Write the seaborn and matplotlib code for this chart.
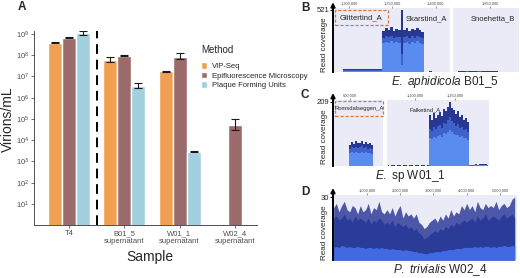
import numpy as np
import pandas as pd
import matplotlib
matplotlib.use('Agg')
import matplotlib.pyplot as plt
from matplotlib.patches import Rectangle
import seaborn as sns

# ---- panel A data ----
samples = ["T4", "B01_5\nsupernatant", "W01_1\nsupernatant", "W02_4\nsupernatant"]
methods = ["VIP-Seq", "Epifluorescence Microscopy", "Plaque Forming Units"]
bar_colors = ["#F0A050", "#9B6A6A", "#A2D0DE"]

vip = [3.8e8, 6.0e7, 1.8e7, np.nan]
vip_lo = [3.6e8, 4.8e7, 1.7e7, np.nan]
vip_hi = [4.0e8, 8.3e7, 1.9e7, np.nan]

epi = [6.7e8, 9.5e7, 8.5e7, 5.2e4]
epi_lo = [6.5e8, 9.0e7, 6.4e7, 3.0e4]
epi_hi = [6.9e8, 1.0e8, 1.23e8, 9.7e4]

pfu = [1.07e9, 3.7e6, 2.9e3, np.nan]
pfu_lo = [8.9e8, 2.9e6, 2.7e3, np.nan]
pfu_hi = [1.35e9, 4.9e6, 3.1e3, np.nan]

# ---- panel B coverage (E. aphidicola B01_5) ----
b1_start, b1_step = 1283000, 3000
b1_max = [0, 0, 0, 0,
          22, 26, 24, 25, 23, 27, 24, 26, 25, 28, 24, 26, 23, 27, 25,
          340, 365, 350, 372, 345, 360, 355, 521, 350, 368, 342, 362, 348, 370, 352, 338,
          4, 3, 5, 3, 2, 4, 3, 2, 3, 4]
b1_mid = [0, 0, 0, 0,
          15, 17, 16, 16, 15, 18, 16, 17, 16, 18, 16, 17, 15, 17, 16,
          285, 300, 290, 305, 288, 296, 292, 150, 290, 302, 284, 298, 288, 304, 292, 282,
          2, 2, 3, 2, 1, 2, 2, 1, 2, 2]
b1_min = [0, 0, 0, 0,
          8, 9, 8, 9, 8, 10, 9, 9, 8, 10, 9, 9, 8, 9, 9,
          240, 252, 245, 255, 242, 250, 246, 60, 244, 254, 238, 250, 242, 256, 246, 236,
          1, 1, 1, 1, 1, 1, 1, 1, 1, 1]
b1_ticks = [1300000, 1350000, 1400000]

b2_start, b2_step = 1809000, 3000
b2_max = [2, 3, 5, 7, 6, 8, 7, 6, 7, 8, 8, 6, 5, 5, 7, 6, 5, 4, 3, 3, 2, 3, 2, 3, 2]
b2_mid = [1, 2, 3, 4, 4, 5, 4, 4, 4, 5, 5, 4, 3, 3, 4, 4, 3, 2, 2, 2, 1, 2, 1, 2, 1]
b2_min = [1, 1, 2, 2, 2, 3, 2, 2, 2, 3, 3, 2, 2, 2, 2, 2, 2, 1, 1, 1, 1, 1, 1, 1, 1]
b2_ticks = [1850000]

# ---- panel C coverage (E. sp W01_1) ----
c1_start, c1_step = 580000, 2500
c1_max = [0, 0, 0, 0, 0, 0, 0, 0,
          70, 78, 72, 80, 74, 76, 82, 73, 77, 71, 75, 68,
          0, 0, 0, 0, 0]
c1_mid = [0, 0, 0, 0, 0, 0, 0, 0,
          57, 62, 58, 63, 59, 61, 64, 58, 62, 57, 60, 55,
          0, 0, 0, 0, 0]
c1_min = [0, 0, 0, 0, 0, 0, 0, 0,
          42, 45, 43, 46, 43, 44, 47, 42, 45, 42, 44, 40,
          0, 0, 0, 0, 0]
c1_ticks = [600000]

c2_start, c2_step = 1166000, 2500
c2_max = [2, 1, 2, 2, 1, 2, 2, 1, 2, 2, 1, 2, 2, 1, 2, 2, 1, 2, 2, 1, 2,
          165, 150, 172, 158, 168, 176, 162, 185, 178, 194, 209, 188, 182, 170, 178, 160, 168, 150, 156, 145,
          3, 4, 3, 5, 4, 6, 5, 7, 5, 4]
c2_mid = [1, 1, 1, 1, 1, 1, 1, 1, 1, 1, 1, 1, 1, 1, 1, 1, 1, 1, 1, 1, 1,
          120, 115, 128, 122, 130, 135, 125, 142, 138, 150, 160, 146, 140, 132, 136, 125, 128, 118, 120, 112,
          2, 2, 2, 3, 2, 3, 3, 4, 3, 2]
c2_min = [0.5, 0.5, 0.5, 0.5, 0.5, 0.5, 0.5, 0.5, 0.5, 0.5, 0.5, 0.5, 0.5, 0.5, 0.5, 0.5, 0.5, 0.5, 0.5, 0.5, 0.5,
          90, 88, 95, 92, 98, 102, 96, 108, 104, 112, 118, 110, 106, 100, 102, 95, 98, 90, 92, 86,
          1, 1, 1, 2, 1, 2, 2, 2, 2, 1]
c2_ticks = [1200000, 1250000]

# ---- panel D coverage (P. trivialis W02_4) ----
d_start, d_step = 0, 80000
d_max = [25, 27, 23, 26, 28, 24, 23, 26, 25, 22,
         26, 23, 24, 27, 22, 25, 24, 28, 23, 22,
         24, 22, 25, 21, 24, 26, 20, 23, 21, 22,
         20, 22, 18, 17, 15, 16, 18, 19, 20, 18,
         21, 19, 22, 20, 24, 21, 23, 22, 26, 24,
         27, 24, 26, 23, 28, 25, 24, 27, 25, 26,
         25, 28, 24, 26, 27, 25, 26, 29, 30]
d_mean = [20, 21, 19, 20, 22, 19, 20, 18, 21, 19,
          20, 19, 18, 20, 17, 19, 18, 20, 19, 17,
          18, 17, 19, 16, 18, 17, 16, 17, 15, 16,
          14, 15, 13, 12, 10, 11, 12, 13, 14, 13,
          15, 14, 16, 15, 17, 16, 18, 17, 18, 19,
          18, 19, 20, 18, 21, 19, 20, 22, 19, 20,
          21, 20, 19, 21, 22, 20, 21, 22, 20]
d_min = [6, 6.5, 6, 7, 6.5, 6, 6.5, 6, 6, 6.5,
         6, 6, 5.5, 6, 6, 5.5, 6, 5.5, 6, 5.5,
         5.5, 5, 5.5, 5, 5, 5, 4.5, 5, 4.5, 4.5,
         4, 4, 3.5, 3.5, 3, 3, 3.5, 3.5, 4, 4,
         4, 4.5, 4.5, 5, 5, 5, 5.5, 5.5, 5.5, 6,
         6, 6, 6, 6.5, 6, 6.5, 6, 6.5, 6.5, 6,
         6.5, 6, 6.5, 6.5, 7, 6.5, 6.5, 7, 6.5]
d_ticks = [1000000, 2000000, 3000000, 4000000, 5000000]

sns.set_theme(style='white')
plt.rcParams['font.family'] = ['Liberation Sans', 'DejaVu Sans']
plt.rcParams['mathtext.fontset'] = 'custom'
plt.rcParams['mathtext.rm'] = 'Liberation Sans'
plt.rcParams['mathtext.it'] = 'Liberation Sans:italic'

W, H = 520, 278
fig = plt.figure(figsize=(W / 100, H / 100), dpi=100)


def px_axes(x0, y0, x1, y1):
    return fig.add_axes([x0 / W, 1 - y1 / H, (x1 - x0) / W, (y1 - y0) / H])


# ================= panel A =================
rows = []
for i, s in enumerate(samples):
    for m, v, lo, hi in zip(methods, [vip, epi, pfu], [vip_lo, epi_lo, pfu_lo], [vip_hi, epi_hi, pfu_hi]):
        rows.append({'Sample': s, 'Method': m, 'value': v[i], 'lo': lo[i], 'hi': hi[i]})
df = pd.DataFrame(rows).dropna()

axA = px_axes(34, 31, 257, 225.25)
axA.set_yscale('log')
sns.barplot(data=df, x='Sample', y='value', hue='Method', order=samples, hue_order=methods,
            palette=bar_colors, errorbar=None, width=0.76, saturation=1, ax=axA)
axA.set_ylim(1, 10 ** 9.14)
axA.set_xlim(-0.63, 3.40)

for bar in axA.patches:
    if bar is None or not hasattr(bar, 'get_height'):
        continue
    top = bar.get_y() + bar.get_height()
    match = df[np.isclose(df['value'], top, rtol=1e-3)]
    if len(match) and bar.get_width() < 0.5:
        r = match.iloc[0]
        xc = bar.get_x() + bar.get_width() / 2
        axA.errorbar(xc, r['value'], yerr=[[r['value'] - r['lo']], [r['hi'] - r['value']]],
                     fmt='none', ecolor='#1a1a1a', elinewidth=0.8, capsize=2.6, capthick=0.8)

axA.axvline(0.5, color='black', ls=(0, (5, 3)), lw=1.4)
axA.set_yticks([10 ** k for k in range(1, 10)])
axA.yaxis.set_minor_locator(plt.NullLocator())
axA.tick_params(axis='both', labelsize=5.5, labelcolor='#4D4D4D', length=2, width=0.5,
                color='#333333', pad=1.5, left=True, bottom=True)
for side in ['top', 'right']:
    axA.spines[side].set_visible(False)
for side in ['left', 'bottom']:
    axA.spines[side].set_color('#333333')
    axA.spines[side].set_linewidth(0.6)
axA.set_ylabel('Virions/mL', fontsize=10)
axA.set_xlabel('Sample', fontsize=10)
axA.yaxis.set_label_coords(-0.085, 0.547)
axA.xaxis.set_label_coords(0.52, -0.125)

handles, labels = axA.get_legend_handles_labels()
axA.legend(handles, labels, title='Method', loc='upper left', bbox_to_anchor=(201 / W, 1 - 45 / H),
           bbox_transform=fig.transFigure, frameon=False, fontsize=5.5, title_fontsize=7,
           handlelength=0.85, handleheight=1.0, handletextpad=0.6, labelspacing=0.2,
           borderpad=0, borderaxespad=0, alignment='left')
axA.get_legend().get_title().set_position((0, 0))
axA.get_legend()._legend_box.sep = 5

fig.text(22 / W, 1 - 7 / H, 'A', fontsize=8.5, fontweight='bold', ha='center', va='center')

# ================= coverage panels =================
lav = '#EBEBF8'
navy = '#283791'
midblue = '#3D62C9'
light = '#5A8BEF'


def cov_axes(x0, y0, x1, y1, top):
    ax = px_axes(x0, y0, x1, y1)
    ax.set_facecolor(lav)
    for s in ax.spines.values():
        s.set_visible(False)
    ax.set_ylim(0, top)
    ax.set_yticks([])
    return ax


def draw_cov(ax, start, step, mx, md, mn, cols, stepmode='mid'):
    x = start + step * np.arange(len(mx))
    for vals, c in zip([mx, md, mn], cols):
        ax.fill_between(x, 0, vals, color=c, lw=0, step=stepmode)
    ax.set_xlim(x[0] - step / 2, x[-1] + step / 2)


def top_ticks(ax, ticks):
    ax.xaxis.tick_top()
    ax.set_xticks(ticks)
    ax.set_xticklabels([f'{t:,}' for t in ticks])
    ax.tick_params(axis='x', labelsize=2.8, labelcolor='#444444', length=1.5, width=0.4,
                   color='#444444', pad=0.5, top=True, bottom=False)


def y_arrow(ax, ymax_label, tip):
    ax.spines['left'].set_visible(True)
    ax.spines['left'].set_color('black')
    ax.spines['left'].set_linewidth(1.4)
    ax.set_yticks([ymax_label])
    ax.tick_params(axis='y', labelsize=5.5, labelcolor='#222222', length=2, width=0.8,
                   color='black', pad=0.5, left=True)
    ax.annotate('', xy=(0, tip), xytext=(0, 0.9), xycoords='axes fraction',
                arrowprops=dict(arrowstyle='-|>', color='black', lw=1.4, mutation_scale=6,
                                shrinkA=0, shrinkB=0), annotation_clip=False)


def dashed_box(x0, y0, x1, y1):
    fig.add_artist(Rectangle((x0 / W, 1 - y1 / H), (x1 - x0) / W, (y1 - y0) / H,
                             transform=fig.transFigure, fill=False, ec='#D9773A',
                             ls=(0, (2.5, 1.5)), lw=0.9))


cols3 = [navy, midblue, light]

# B
axB1 = cov_axes(333, 8, 450, 72, 535)
draw_cov(axB1, b1_start, b1_step, b1_max, b1_mid, b1_min, cols3)
top_ticks(axB1, b1_ticks)
y_arrow(axB1, 521, 1.09)
axB2 = cov_axes(453, 8, 519, 72, 535)
draw_cov(axB2, b2_start, b2_step, b2_max, b2_mid, b2_min, cols3)
top_ticks(axB2, b2_ticks)
dashed_box(335, 10, 388, 25)
fig.text(361 / W, 1 - 18 / H, 'Glittertind_A', fontsize=5.5, ha='center', va='center')
fig.text(426 / W, 1 - 19 / H, 'Skarstind_A', fontsize=5.5, ha='center', va='center')
fig.text(493 / W, 1 - 19 / H, 'Snoehetta_B', fontsize=5.5, ha='center', va='center')
fig.text(325 / W, 1 - 45 / H, 'Read coverage', fontsize=5.8, rotation=90, ha='center', va='center')
fig.text(305 / W, 1 - 8 / H, 'B', fontsize=8.5, fontweight='bold', ha='center', va='center')
fig.text(445 / W, 1 - 82 / H, r'$\mathit{E.\ aphidicola}$ B01_5', fontsize=8.5, ha='center', va='center')

# C
axC1 = cov_axes(333, 100, 383, 166, 215.5)
draw_cov(axC1, c1_start, c1_step, c1_max, c1_mid, c1_min, cols3)
top_ticks(axC1, c1_ticks)
y_arrow(axC1, 209, 1.106)
axC2 = cov_axes(387, 100, 489, 166, 215.5)
draw_cov(axC2, c2_start, c2_step, c2_max, c2_mid, c2_min, cols3)
top_ticks(axC2, c2_ticks)
dashed_box(335, 101, 383, 116)
fig.text(359 / W, 1 - 108.5 / H, 'Romsdalseggen_A', fontsize=4.2, ha='center', va='center')
fig.text(425 / W, 1 - 110 / H, 'Falketind_A', fontsize=4.2, ha='center', va='center')
fig.text(325 / W, 1 - 137 / H, 'Read coverage', fontsize=5.8, rotation=90, ha='center', va='center')
fig.text(305 / W, 1 - 95 / H, 'C', fontsize=8.5, fontweight='bold', ha='center', va='center')
fig.text(410 / W, 1 - 176 / H, r'$\mathit{E.}$ sp W01_1', fontsize=8.5, ha='center', va='center')

# D
axD = cov_axes(333, 195, 517, 260, 31)
draw_cov(axD, d_start, d_step, d_max, d_mean, d_min, ['#4D57A8', '#2B3B98', '#4169E1'], stepmode=None)
axD.set_xlim(-20000, 5510000)
top_ticks(axD, d_ticks)
y_arrow(axD, 30, 1.108)
fig.text(325 / W, 1 - 233 / H, 'Read coverage', fontsize=5.8, rotation=90, ha='center', va='center')
fig.text(305 / W, 1 - 192 / H, 'D', fontsize=8.5, fontweight='bold', ha='center', va='center')
fig.text(440 / W, 1 - 270 / H, r'$\mathit{P.\ trivialis}$ W02_4', fontsize=8.5, ha='center', va='center')

fig.savefig('out.png', dpi=100)
